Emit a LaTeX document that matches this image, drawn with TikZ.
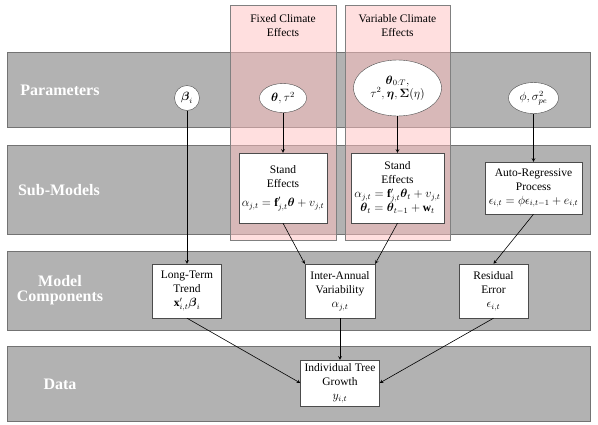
\documentclass[tikz,border=0pt]{standalone}
\usepackage{amsmath,amssymb}
\usepackage{fontspec}
\setmainfont{Liberation Serif}
\usepackage{tikz}
\usetikzlibrary{shapes.geometric}

\begin{document}
\begin{tikzpicture}[x=1pt,y=-1pt,>=stealth]
        \tikzstyle{band} = [draw=black!55, fill=gray!60]
        \tikzstyle{climate} = [draw=gray, fill=red!25, fill opacity=0.5]
        \tikzstyle{rowlabel} = [text=white, font=\fontsize{16}{15}\selectfont\bfseries, align=center]
        \tikzstyle{title} = [font=\fontsize{11.5}{14}\selectfont, align=center]
        \tikzstyle{param} = [ellipse, draw=black!70, fill=white, inner sep=0pt, font=\fontsize{11.5}{13}\selectfont, align=center]
        \tikzstyle{model} = [rectangle, draw=black!70, fill=white, inner sep=1pt, font=\fontsize{11.5}{14}\selectfont, align=center]
        \useasboundingbox (0,0) rectangle (598,424);

        % rows
        \draw[band] (7,52) rectangle (590,127);
        \draw[band] (7,145) rectangle (590,234);
        \draw[band] (7,251) rectangle (590,330);
        \draw[band] (7,346) rectangle (590,421);
        \node[rowlabel] (lpar) at (60,90) {Parameters};
        \node[rowlabel] (lsub) at (59,190) {Sub-Models};
        \node[rowlabel] (lcomp) at (60,290) {Model\\Components};
        \node[rowlabel] (ldata) at (60,384) {Data};

        % climate effects
        \draw[climate] (230,5) rectangle (336,240);
        \draw[climate] (345,5) rectangle (450,240);
        \node[title] (fixed) at (283,26) {Fixed Climate\\Effects};
        \node[title] (variable) at (397.5,26) {Variable Climate\\Effects};

        % parameters
        \node[param, circle, minimum size=25] (beta) at (187,98) {$\boldsymbol{\beta}_i$};
        \node[param, minimum width=47, minimum height=29] (theta) at (283,98) {$\boldsymbol{\theta}, \tau^2$};
        \node[param, minimum width=88, minimum height=56] (thetat) at (397.5,88) {$\boldsymbol{\theta}_{0:T},$\\$\tau^2, \boldsymbol{\eta}, \boldsymbol{\Sigma}(\eta)$};
        \node[param, minimum width=50, minimum height=31] (phi) at (533.5,98) {$\phi, \sigma_{pe}^2$};

        % sub-models and components
        \node[model, minimum width=88, minimum height=70] (fse) at (283,188) {Stand\\Effects\\[5pt]$\alpha_{j,t} = \mathbf{f}'_{j,t}\boldsymbol{\theta} + v_{j,t}$};
        \node[model, minimum width=93, minimum height=70] (vse) at (397.5,188) {Stand\\Effects\\$\alpha_{j,t} = \mathbf{f}'_{j,t}\boldsymbol{\theta}_t + v_{j,t}$\\$\boldsymbol{\theta}_t = \boldsymbol{\theta}_{t-1} + \mathbf{w}_t$};
        \node[model, minimum width=97, minimum height=52] (ar) at (533.5,188) {Auto-Regressive\\Process\\$\epsilon_{i,t} = \phi\epsilon_{i,t-1} + e_{i,t}$};
        \node[model, minimum width=69, minimum height=54] (ltt) at (187,291) {Long-Term\\Trend\\$\mathbf{x}'_{i,t}\boldsymbol{\beta}_i$};
        \node[model, minimum width=70, minimum height=54] (iav) at (340,291) {Inter-Annual\\Variability\\$\alpha_{j,t}$};
        \node[model, minimum width=69, minimum height=54] (res) at (493.5,291) {Residual\\Error\\$\epsilon_{i,t}$};
        \node[model, minimum width=79, minimum height=46] (itg) at (340,383) {Individual Tree\\Growth\\$y_{i,t}$};

        \foreach \from/\to in {beta/ltt, theta/fse, thetat/vse, phi/ar, fse.south/iav.north west, vse.south/iav.north east, ar.south/res.north, ltt.south/itg.west, iav/itg, res.south/itg.east}
            \draw[->, semithick] (\from) -- (\to);
    \end{tikzpicture}
\end{document}
